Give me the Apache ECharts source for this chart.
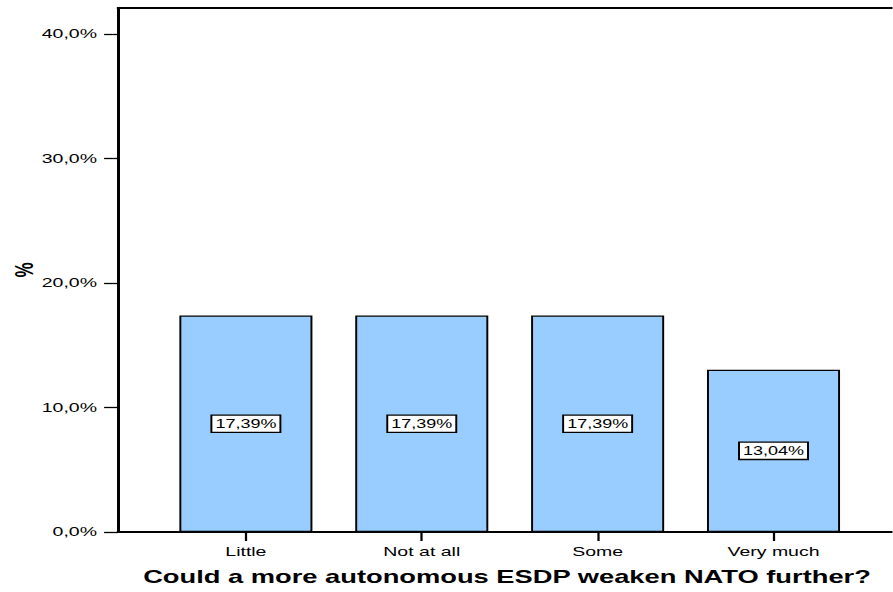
<!DOCTYPE html>
<html>
<head>
<meta charset="utf-8">
<script src="https://cdn.jsdelivr.net/npm/echarts@6/dist/echarts.min.js"></script>
<style>
html,body{margin:0;padding:0;background:#fff;overflow:hidden;}
#c{width:595.33px;height:592px;transform:scaleX(1.5);transform-origin:0 0;}
</style>
</head>
<body>
<div id="c"></div>
<script>
// Data
var categories = ['Little', 'Not at all', 'Some', 'Very much'];
var percents = [17.39, 17.39, 17.39, 13.04];
var yTicks = [0, 10, 20, 30, 40];
var xTitle = 'Could a more autonomous ESDP weaken NATO further?';
var yTitle = '%';

var FONT = '"Liberation Sans", Arial, sans-serif';
var chart = echarts.init(document.getElementById('c'), null, {renderer: 'svg'});
var YMAX = 42.1;
var option = {
  animation: false,
  backgroundColor: '#ffffff',
  title: {
    text: xTitle,
    left: 333,
    top: 563,
    textAlign: 'center',
    textStyle: {fontFamily: FONT, fontSize: 18.2, fontWeight: 'bold', color: '#000'}
  },
  grid: [
    {left: 78.7, right: 0, top: 8, bottom: 60, outerBoundsMode: 'none', containLabel: false},
    {left: 105.3, right: 20.7, top: 8, bottom: 60, outerBoundsMode: 'none', containLabel: false}
  ],
  xAxis: [
    {gridIndex: 0, type: 'value', min: 0, max: 1, position: 'bottom',
      axisLine: {show: true, lineStyle: {color: '#000', width: 2}},
      axisTick: {show: false}, axisLabel: {show: false}, splitLine: {show: false}},
    {gridIndex: 0, type: 'value', min: 0, max: 1, position: 'top',
      axisLine: {show: true, lineStyle: {color: '#000', width: 2}},
      axisTick: {show: false}, axisLabel: {show: false}, splitLine: {show: false}},
    {gridIndex: 1, type: 'category', data: categories,
      axisLine: {show: false},
      axisTick: {show: true, alignWithLabel: true, length: 9, lineStyle: {color: '#000', width: 1.5}},
      axisLabel: {margin: 13, fontFamily: FONT, fontSize: 13, color: '#000'},
      splitLine: {show: false}}
  ],
  yAxis: [
    {gridIndex: 0, type: 'value', min: 0, max: YMAX,
      name: yTitle, nameLocation: 'middle', nameRotate: 90, nameGap: 54, nameMoveOverlap: false,
      nameTextStyle: {fontFamily: FONT, fontSize: 17, fontWeight: 'bold', color: '#000'},
      axisLine: {show: true, lineStyle: {color: '#000', width: 2}},
      axisTick: {show: true, customValues: yTicks, length: 9.3, lineStyle: {color: '#000', width: 1.3}},
      axisLabel: {customValues: yTicks, margin: 14, fontFamily: FONT, fontSize: 13, color: '#000',
        formatter: function (v) { return v.toFixed(1).replace('.', ',') + '%'; }},
      splitLine: {show: false}},
    {gridIndex: 1, type: 'value', min: 0, max: YMAX, show: false, splitLine: {show: false}}
  ],
  series: [{
    type: 'bar',
    xAxisIndex: 2,
    yAxisIndex: 1,
    data: percents,
    barWidth: 88.7,
    itemStyle: {color: '#99CCFF', borderColor: '#000', borderWidth: 1.3},
    label: {
      show: true,
      position: 'inside',
      formatter: function (p) { return p.value.toFixed(2).replace('.', ',') + '%'; },
      fontFamily: FONT, fontSize: 12, color: '#000',
      backgroundColor: '#fff', borderColor: '#000', borderWidth: 1.3,
      padding: [2, 2, 1, 2], lineHeight: 13
    }
  }]
};
chart.setOption(option);
</script>
</body>
</html>
